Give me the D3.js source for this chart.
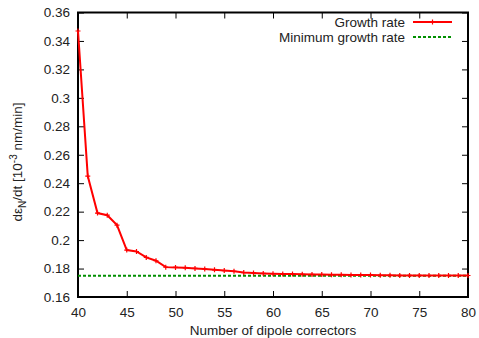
<!DOCTYPE html>
<html>
<head>
<meta charset="utf-8">
<script src="https://cdn.jsdelivr.net/npm/d3@7"></script>
<style>
  body { margin: 0; background: #fff; }
  text { font-family: "Liberation Sans", Arial, sans-serif; fill: #222; }
</style>
</head>
<body>
<div id="app"></div>
<script>
// number of dipole correctors
const correctors = d3.range(40, 81)
// growth rate, 10^-3 nm/min
const growthRate = [
  0.347, 0.245, 0.219, 0.2175, 0.2105, 0.193, 0.192, 0.1878, 0.1855, 0.181,
  0.1808, 0.1805, 0.1801, 0.1797, 0.1791, 0.1786, 0.1781, 0.1772, 0.1769, 0.1766,
  0.1764, 0.1762, 0.1761, 0.1760, 0.1759, 0.1758, 0.1757, 0.1756, 0.1755, 0.1754,
  0.1754, 0.1753, 0.1753, 0.1752, 0.1752, 0.1752, 0.1751, 0.1751, 0.1751, 0.1751, 0.1751
]
const minimumRate = 0.175
const xTicks = [40, 45, 50, 55, 60, 65, 70, 75, 80]
const yTicks = [0.16, 0.18, 0.2, 0.22, 0.24, 0.26, 0.28, 0.3, 0.32, 0.34, 0.36]

const width = 479, height = 338
const margin = {left: 78, right: 11, top: 12.5, bottom: 41}
const fontSize = '13.5px'

const svg = d3.select('#app').append('svg')
    .attr('width', width)
    .attr('height', height)

const x = d3.scaleLinear()
    .domain([40, 80])
    .range([margin.left, width - margin.right])

const y = d3.scaleLinear()
    .domain([0.16, 0.36])
    .range([height - margin.bottom, margin.top])

const fmt = d => d3.format('~g')(+d.toFixed(2))

// axes, ticks point inward like gnuplot
svg.append('g')
    .attr('transform', 'translate(0,' + y.range()[0] + ')')
    .call(d3.axisBottom(x).tickValues(xTicks).tickSizeInner(-6).tickSizeOuter(0).tickPadding(10))
svg.append('g')
    .attr('transform', 'translate(0,' + y.range()[1] + ')')
    .call(d3.axisTop(x).tickValues(xTicks).tickSizeInner(-6).tickSizeOuter(0).tickFormat(''))
svg.append('g')
    .attr('transform', 'translate(' + x.range()[0] + ',0)')
    .call(d3.axisLeft(y).tickValues(yTicks).tickSizeInner(-6).tickSizeOuter(0).tickPadding(8).tickFormat(fmt))
svg.append('g')
    .attr('transform', 'translate(' + x.range()[1] + ',0)')
    .call(d3.axisRight(y).tickValues(yTicks).tickSizeInner(-6).tickSizeOuter(0).tickFormat(''))

svg.selectAll('.domain').remove()
svg.selectAll('.tick line').attr('stroke', '#000').attr('stroke-width', 1)
svg.selectAll('.tick text').style('font-size', fontSize).attr('fill', '#222')

svg.append('rect')
    .attr('x', x.range()[0])
    .attr('y', y.range()[1])
    .attr('width', x.range()[1] - x.range()[0])
    .attr('height', y.range()[0] - y.range()[1])
    .attr('fill', 'none')
    .attr('stroke', '#000')
    .attr('stroke-width', 2)

// minimum growth rate
svg.append('line')
    .attr('x1', x(40)).attr('x2', x(80))
    .attr('y1', y(minimumRate)).attr('y2', y(minimumRate))
    .attr('stroke', '#009000')
    .attr('stroke-width', 2)
    .attr('stroke-dasharray', '3,2')

// growth rate curve
const pts = correctors.map((c, i) => [c, growthRate[i]])
svg.append('path')
    .datum(pts)
    .attr('d', d3.line().x(d => x(d[0])).y(d => y(d[1])))
    .attr('fill', 'none')
    .attr('stroke', '#ff0000')
    .attr('stroke-width', 2)

svg.append('g').selectAll('path')
    .data(pts)
    .enter()
    .append('path')
    .attr('d', d => 'M' + (x(d[0]) - 2.5) + ',' + y(d[1]) + 'h5M' + x(d[0]) + ',' + (y(d[1]) - 2.5) + 'v5')
    .attr('stroke', '#ff0000')
    .attr('stroke-width', 1.2)

// legend
const legend = svg.append('g')
legend.append('text')
    .attr('x', 405).attr('y', 26.5)
    .attr('text-anchor', 'end')
    .style('font-size', fontSize)
    .text('Growth rate')
legend.append('line')
    .attr('x1', 413).attr('x2', 452).attr('y1', 22).attr('y2', 22)
    .attr('stroke', '#ff0000').attr('stroke-width', 2)
legend.append('path')
    .attr('d', 'M432.5,19.5h0M432.5,19.5v5')
    .attr('stroke', '#ff0000').attr('stroke-width', 1.2)
legend.append('text')
    .attr('x', 405).attr('y', 41.5)
    .attr('text-anchor', 'end')
    .style('font-size', fontSize)
    .text('Minimum growth rate')
legend.append('line')
    .attr('x1', 413).attr('x2', 452).attr('y1', 37).attr('y2', 37)
    .attr('stroke', '#009000').attr('stroke-width', 2)
    .attr('stroke-dasharray', '3,2')

// axis titles
svg.append('text')
    .attr('x', (x.range()[0] + x.range()[1]) / 2)
    .attr('y', 334.5)
    .attr('text-anchor', 'middle')
    .style('font-size', fontSize)
    .text('Number of dipole correctors')

const yt = svg.append('text')
    .attr('transform', 'translate(22,162) rotate(-90)')
    .attr('text-anchor', 'middle')
    .style('font-size', fontSize)
yt.append('tspan').text('d\u03b5')
yt.append('tspan').attr('dy', 4).style('font-size', '10px').text('N')
yt.append('tspan').attr('dy', -4).text('/dt [10')
yt.append('tspan').attr('dy', -5).style('font-size', '10px').text('-3')
yt.append('tspan').attr('dy', 5).text(' nm/min]')
</script>
</body>
</html>
